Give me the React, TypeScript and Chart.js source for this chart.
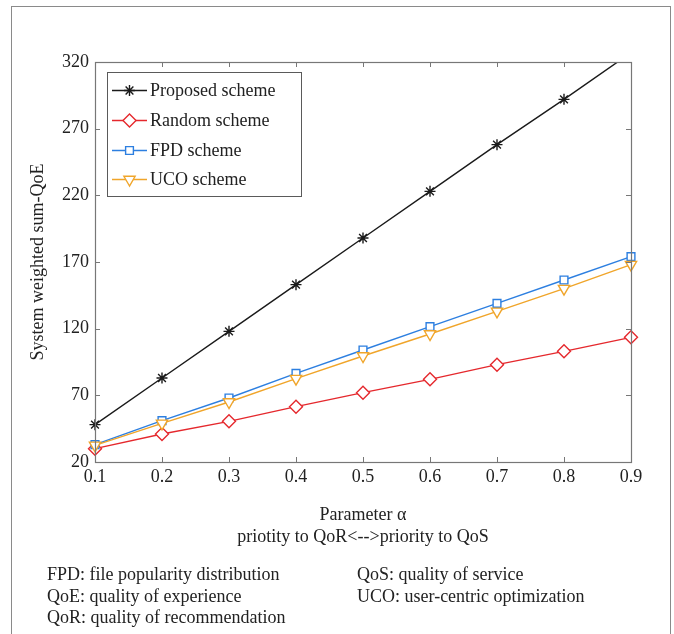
import React, { useEffect, useRef } from "react";
import { Chart, registerables } from "chart.js";
import { drawPoint } from "chart.js/helpers";

Chart.register(...registerables);

// ---- data ----
const alphaLabels = ["0.1", "0.2", "0.3", "0.4", "0.5", "0.6", "0.7", "0.8", "0.9"];
const proposedScheme = [48, 83, 118, 153, 188, 223, 258, 292, 327];
const randomScheme = [30, 41, 50.5, 61.5, 72, 82, 93, 103, 113.5];
const fpdScheme = [33, 51, 68, 86.5, 104, 121.5, 139, 156.5, 174];
const ucoScheme = [32.5, 49, 65, 82.5, 99.5, 116, 133, 150, 168];
const seriesNames = ["Proposed scheme", "Random scheme", "FPD scheme", "UCO scheme"];
const yMin = 20;
const yMax = 320;
const yStep = 50;
const xTitleLines = ["Parameter \u03b1", "priotity to QoR<-->priority to QoS"];
const yTitle = "System weighted sum-QoE";
const notesLeft = [
  "FPD: file popularity distribution",
  "QoE: quality of experience",
  "QoR: quality of recommendation",
];
const notesRight = ["QoS: quality of service", "UCO: user-centric optimization"];

const SERIF = '"Liberation Serif", "Times New Roman", serif';
const TEXT = "#222";

const framePlugin = {
  id: "matlabFrame",
  afterDraw(chart: any) {
    const { ctx, chartArea: a, scales } = chart;
    ctx.save();
    // axes box
    ctx.strokeStyle = "#777";
    ctx.lineWidth = 1.2;
    ctx.strokeRect(a.left + 0.5, a.top + 0.5, a.right - a.left, a.bottom - a.top);
    // inward ticks
    const tl = 5;
    ctx.lineWidth = 1;
    ctx.beginPath();
    const xs = scales.x;
    xs.ticks.forEach((_t: any, i: number) => {
      const px = Math.round(xs.getPixelForTick(i)) + 0.5;
      ctx.moveTo(px, a.bottom);
      ctx.lineTo(px, a.bottom - tl);
      ctx.moveTo(px, a.top);
      ctx.lineTo(px, a.top + tl);
    });
    const ys = scales.y;
    ys.ticks.forEach((_t: any, i: number) => {
      const py = Math.round(ys.getPixelForTick(i)) + 0.5;
      ctx.moveTo(a.left, py);
      ctx.lineTo(a.left + tl, py);
      ctx.moveTo(a.right, py);
      ctx.lineTo(a.right - tl, py);
    });
    ctx.stroke();

    // legend
    const bx = 107.5, by = 72.5, bw = 194, bh = 124;
    ctx.fillStyle = "#fff";
    ctx.fillRect(bx, by, bw, bh);
    ctx.strokeStyle = "#5a5a5a";
    ctx.lineWidth = 1;
    ctx.strokeRect(bx, by, bw, bh);
    const rows = [90.5, 120.5, 150.5, 179.5];
    chart.data.datasets.forEach((ds: any, i: number) => {
      const y = rows[i];
      ctx.strokeStyle = ds.borderColor;
      ctx.lineWidth = ds.borderWidth;
      ctx.beginPath();
      ctx.moveTo(112, y);
      ctx.lineTo(147, y);
      ctx.stroke();
      ctx.fillStyle = ds.pointBackgroundColor;
      ctx.strokeStyle = ds.borderColor;
      drawPoint(ctx, {
        pointStyle: ds.pointStyle,
        radius: ds.pointRadius,
        rotation: ds.pointRotation || 0,
        borderWidth: ds.pointBorderWidth,
      } as any, 129.5, y);
      ctx.fillStyle = TEXT;
      ctx.font = `18px ${SERIF}`;
      ctx.textBaseline = "middle";
      ctx.textAlign = "left";
      ctx.fillText(ds.label, 150, y + 1);
    });
    ctx.restore();
  },
};

export default function App() {
  const ref = useRef<HTMLCanvasElement>(null);

  useEffect(() => {
    document.body.style.margin = "0";
    document.body.style.overflow = "hidden";
    const canvas = ref.current;
    if (!canvas) return;
    const clip = { left: 12, right: 12, bottom: 12, top: 0 };
    const mk = (label: string, data: number[], color: string, style: string, radius: number, rot: number, order: number) => ({
      label,
      data,
      borderColor: color,
      backgroundColor: color,
      borderWidth: 1.4,
      pointStyle: style,
      pointRadius: radius,
      pointHoverRadius: radius,
      pointRotation: rot,
      pointBorderWidth: 1.4,
      pointBackgroundColor: "#fff",
      pointBorderColor: color,
      tension: 0,
      fill: false,
      clip,
      order,
    });
    const chart = new Chart(canvas, {
      type: "line",
      data: {
        labels: alphaLabels,
        datasets: [
          mk(seriesNames[0], proposedScheme, "#1a1a1a", "star", 5.5, 0, 3),
          mk(seriesNames[1], randomScheme, "#e5282d", "rectRot", 6.5, 0, 2),
          mk(seriesNames[2], fpdScheme, "#2d7fe0", "rect", 5.5, 0, 1),
          mk(seriesNames[3], ucoScheme, "#f0a52a", "triangle", 6.5, 180, 0),
        ] as any,
      },
      options: {
        responsive: false,
        animation: false,
        devicePixelRatio: 1,
        layout: { padding: { left: 0, top: 62, right: 43, bottom: 86 } },
        plugins: {
          legend: { display: false },
          tooltip: { enabled: false },
          title: { display: false },
        },
        scales: {
          x: {
            type: "category",
            offset: false,
            grid: { display: false, drawTicks: false },
            border: { display: false },
            ticks: {
              color: TEXT,
              font: { family: SERIF, size: 18 },
              padding: 4,
              maxRotation: 0,
              autoSkip: false,
            },
            title: {
              display: true,
              text: xTitleLines,
              color: TEXT,
              font: { family: SERIF, size: 18, lineHeight: 22 / 18 },
              padding: { top: 0, bottom: 0 },
            },
            afterFit: (s: any) => {
              s.height = 86;
            },
          },
          y: {
            min: yMin,
            max: yMax,
            grid: { display: false, drawTicks: false },
            border: { display: false },
            ticks: {
              stepSize: yStep,
              color: TEXT,
              font: { family: SERIF, size: 18 },
              padding: 6,
            },
            title: {
              display: true,
              text: yTitle,
              color: TEXT,
              font: { family: SERIF, size: 18 },
              padding: { top: 27, bottom: 0 },
            },
            afterFit: (s: any) => {
              s.width = 95;
            },
          },
        },
      } as any,
      plugins: [framePlugin],
    });
    return () => chart.destroy();
  }, []);

  const noteStyle = (left: number, top: number): React.CSSProperties => ({
    position: "absolute",
    left,
    top,
    fontFamily: SERIF,
    fontSize: 18,
    lineHeight: "22px",
    color: TEXT,
    whiteSpace: "nowrap",
  });

  return (
    <div style={{ position: "relative", width: 674, height: 634, overflow: "hidden", background: "#fff" }}>
      <div
        style={{
          position: "absolute",
          left: 11,
          top: 6,
          width: 660,
          height: 660,
          border: "1.5px solid #8a8a8a",
          boxSizing: "border-box",
        }}
      />
      <canvas ref={ref} width={674} height={634} style={{ position: "absolute", left: 0, top: 0, width: 674, height: 634 }} />
      {notesLeft.map((t, i) => (
        <div key={"l" + i} style={noteStyle(47, 563 + i * 21.5)}>{t}</div>
      ))}
      {notesRight.map((t, i) => (
        <div key={"r" + i} style={noteStyle(357, 563 + i * 21.5)}>{t}</div>
      ))}
    </div>
  );
}
